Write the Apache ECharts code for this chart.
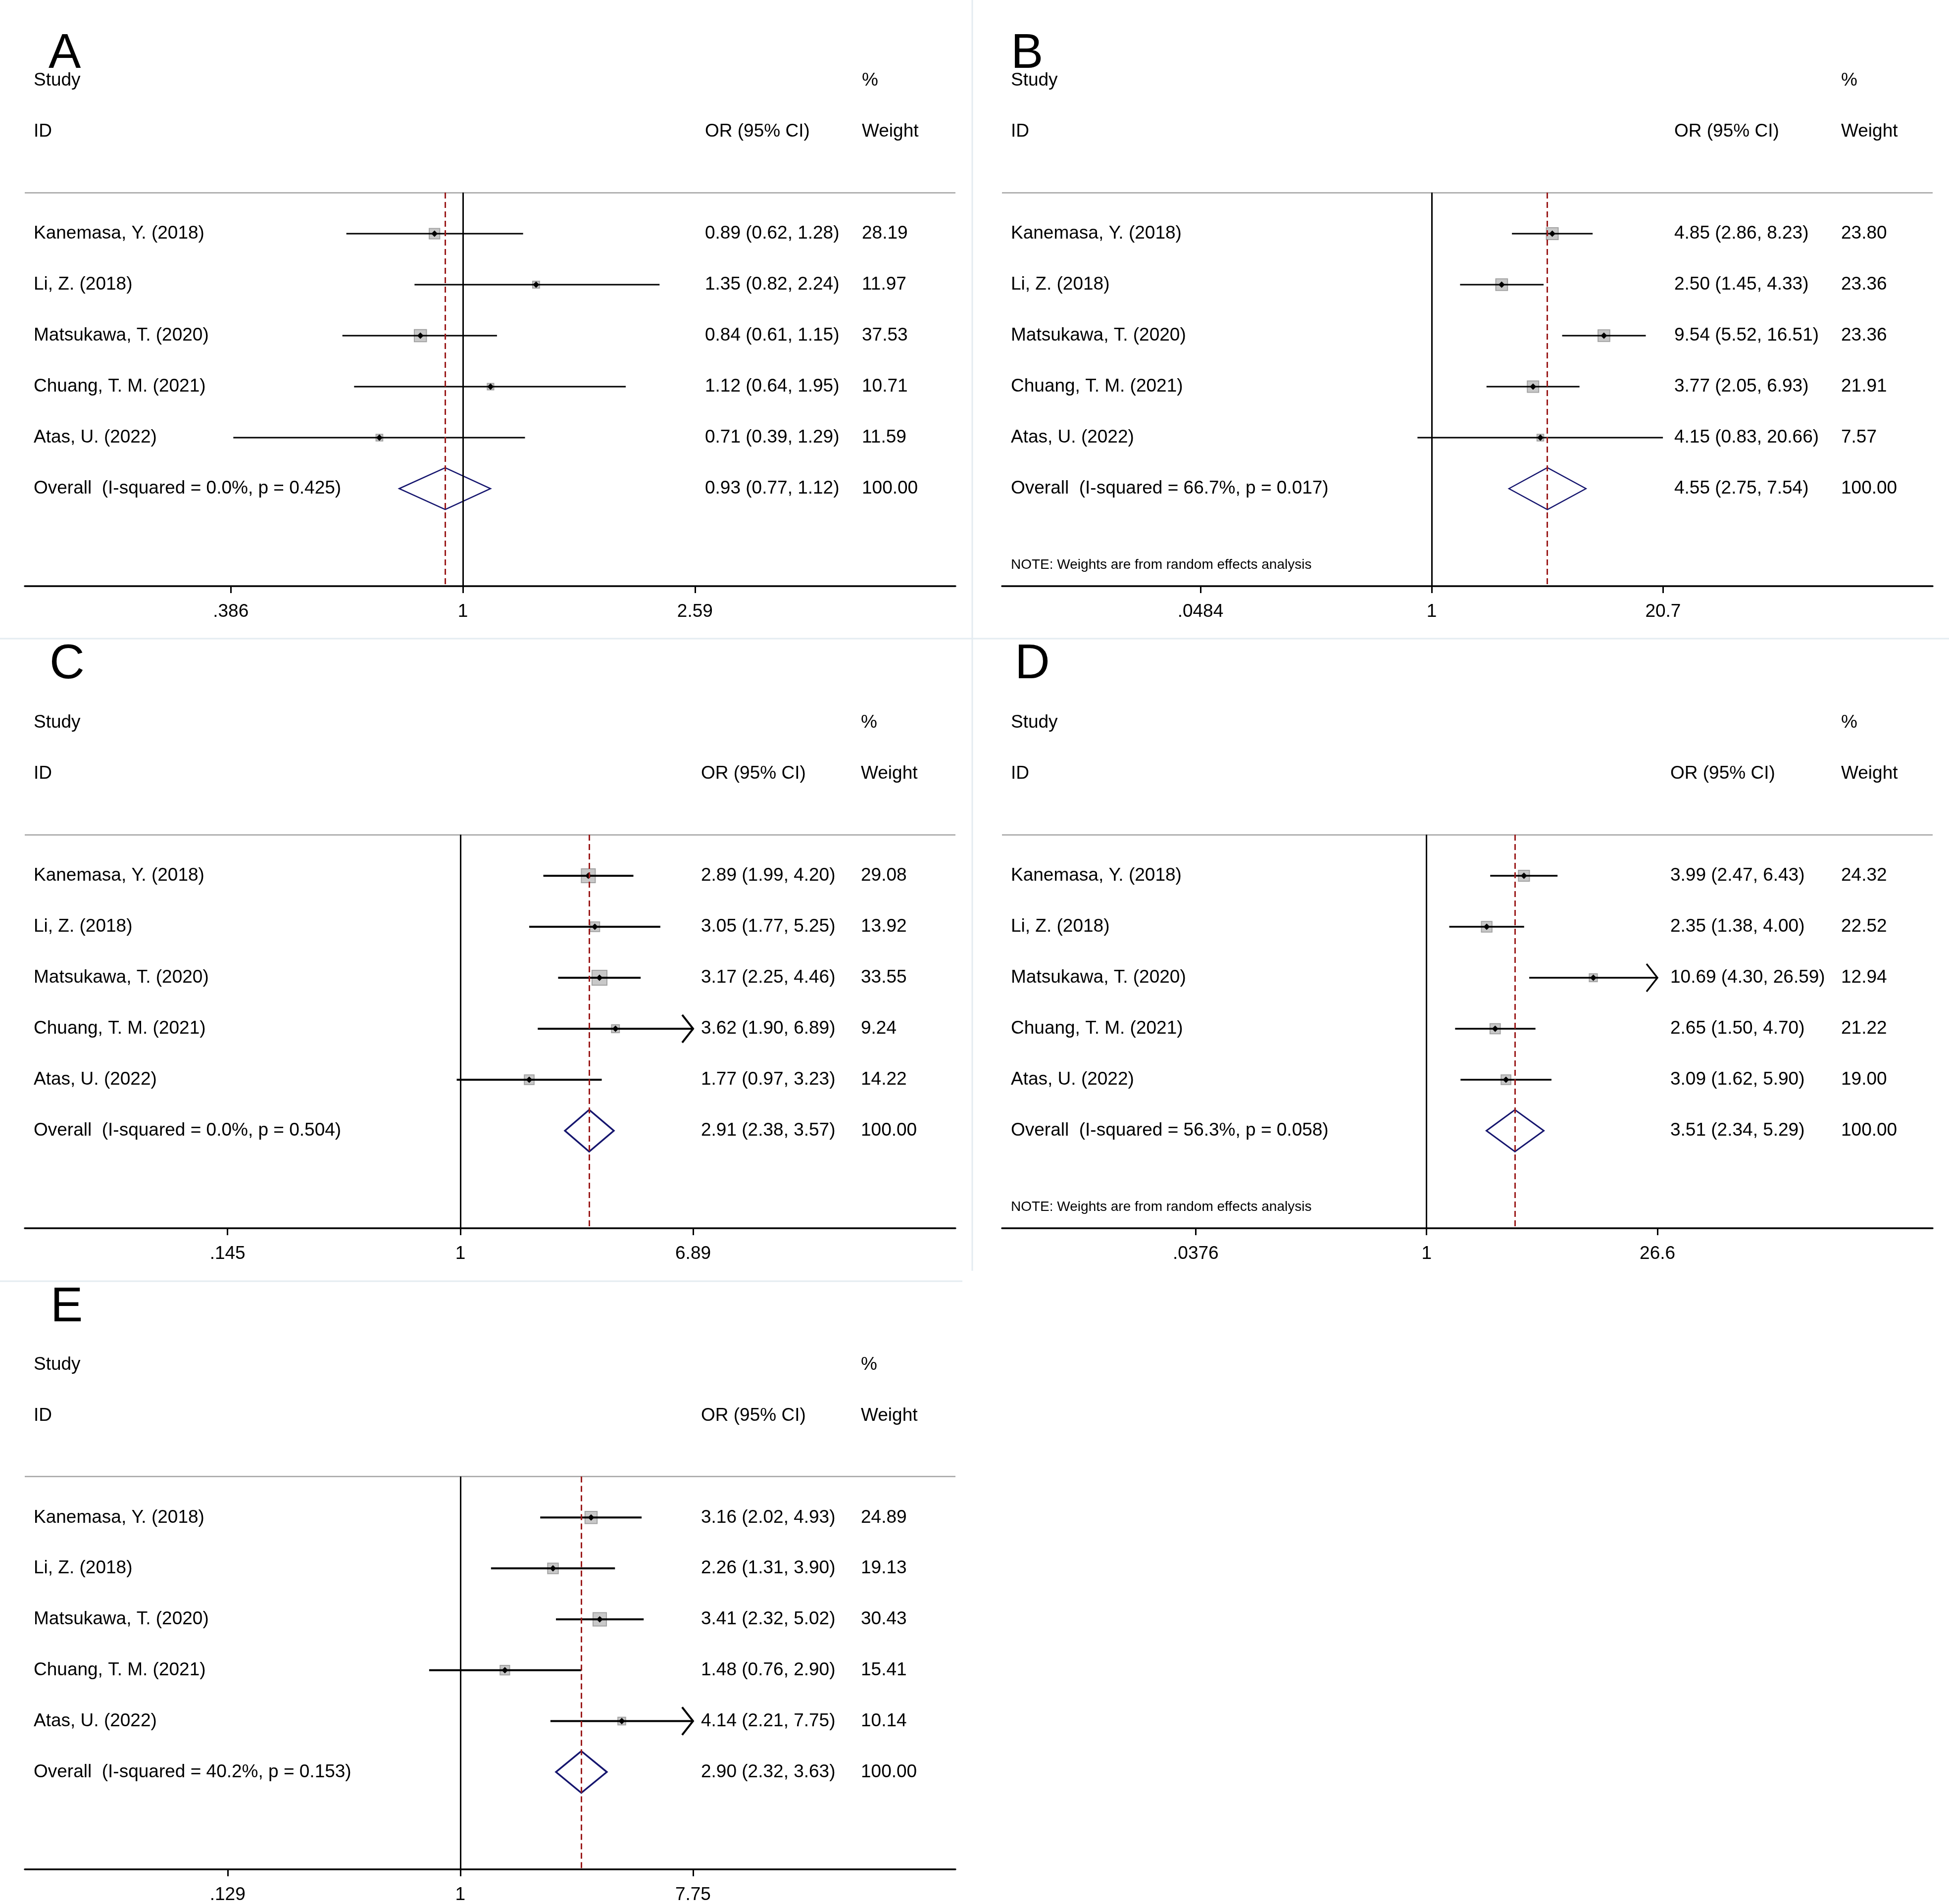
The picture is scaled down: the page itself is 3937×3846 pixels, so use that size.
<!DOCTYPE html>
<html>
<head>
<meta charset="utf-8">
<script src="https://cdn.jsdelivr.net/npm/echarts@6/dist/echarts.min.js"></script>
<style>
    html, body { margin: 0; padding: 0; background: #fff; }
    #forest { width: 3937px; height: 3846px; }
</style>
</head>
<body>
<div id="forest"></div>
<script>
    // study labels shared by every panel
    const studies = ['Kanemasa, Y. (2018)', 'Li, Z. (2018)', 'Matsukawa, T. (2020)', 'Chuang, T. M. (2021)', 'Atas, U. (2022)'];

    // panel A
    const orA = [0.89, 1.35, 0.84, 1.12, 0.71];
    const loA = [0.62, 0.82, 0.61, 0.64, 0.39];
    const hiA = [1.28, 2.24, 1.15, 1.95, 1.29];
    const weightA = [28.19, 11.97, 37.53, 10.71, 11.59];
    const overallA = [0.93, 0.77, 1.12];
    const hetA = 'Overall  (I-squared = 0.0%, p = 0.425)';
    const ticksA = [0.386, 1, 2.59];
    const tickLabelsA = ['.386', '1', '2.59'];
    const arrowsA = [0, 0, 0, 0, 0];

    // panel B
    const orB = [4.85, 2.50, 9.54, 3.77, 4.15];
    const loB = [2.86, 1.45, 5.52, 2.05, 0.83];
    const hiB = [8.23, 4.33, 16.51, 6.93, 20.66];
    const weightB = [23.80, 23.36, 23.36, 21.91, 7.57];
    const overallB = [4.55, 2.75, 7.54];
    const hetB = 'Overall  (I-squared = 66.7%, p = 0.017)';
    const ticksB = [0.0484, 1, 20.7];
    const tickLabelsB = ['.0484', '1', '20.7'];
    const arrowsB = [0, 0, 0, 0, 0];

    // panel C
    const orC = [2.89, 3.05, 3.17, 3.62, 1.77];
    const loC = [1.99, 1.77, 2.25, 1.90, 0.97];
    const hiC = [4.20, 5.25, 4.46, 6.89, 3.23];
    const weightC = [29.08, 13.92, 33.55, 9.24, 14.22];
    const overallC = [2.91, 2.38, 3.57];
    const hetC = 'Overall  (I-squared = 0.0%, p = 0.504)';
    const ticksC = [0.145, 1, 6.89];
    const tickLabelsC = ['.145', '1', '6.89'];
    const arrowsC = [0, 0, 0, 1, 0];

    // panel D
    const orD = [3.99, 2.35, 10.69, 2.65, 3.09];
    const loD = [2.47, 1.38, 4.30, 1.50, 1.62];
    const hiD = [6.43, 4.00, 26.59, 4.70, 5.90];
    const weightD = [24.32, 22.52, 12.94, 21.22, 19.00];
    const overallD = [3.51, 2.34, 5.29];
    const hetD = 'Overall  (I-squared = 56.3%, p = 0.058)';
    const ticksD = [0.0376, 1, 26.6];
    const tickLabelsD = ['.0376', '1', '26.6'];
    const arrowsD = [0, 0, 1, 0, 0];

    // panel E
    const orE = [3.16, 2.26, 3.41, 1.48, 4.14];
    const loE = [2.02, 1.31, 2.32, 0.76, 2.21];
    const hiE = [4.93, 3.90, 5.02, 2.90, 7.75];
    const weightE = [24.89, 19.13, 30.43, 15.41, 10.14];
    const overallE = [2.90, 2.32, 3.63];
    const hetE = 'Overall  (I-squared = 40.2%, p = 0.153)';
    const ticksE = [0.129, 1, 7.75];
    const tickLabelsE = ['.129', '1', '7.75'];
    const arrowsE = [0, 0, 0, 0, 1];

    const noteText = 'NOTE: Weights are from random effects analysis';

    const FONT = "'Liberation Sans', Arial, sans-serif";
    const FS = 37;
    const ROW0 = 472, STEP = 103;
    const Y_MIN = -3.6, Y_MAX = 6.913, Y_HEAD = -0.806;
    const PANEL_W = 1880;

    const panels = [
        { letter: 'A', or: orA, lo: loA, hi: hiA, w: weightA, ov: overallA, het: hetA, ticks: ticksA, tickLabels: tickLabelsA, arrows: arrowsA, note: false,
          left: 50, top: 0, xMin: -1.797, xMax: 2.020, orX: 1424, wX: 1741, nameX: 68, titleX: 98, titleY: 110, box: 4.0, lw: 3 },
        { letter: 'B', or: orB, lo: loB, hi: hiB, w: weightB, ov: overallB, het: hetB, ticks: ticksB, tickLabels: tickLabelsB, arrows: arrowsB, note: true,
          left: 2024, top: 0, xMin: -5.628, xMax: 6.561, orX: 3382, wX: 3719, nameX: 2042, titleX: 2042, titleY: 110, box: 4.9, lw: 3 },
        { letter: 'C', or: orC, lo: loC, hi: hiC, w: weightC, ov: overallC, het: hetC, ticks: ticksC, tickLabels: tickLabelsC, arrows: arrowsC, note: false,
          left: 50, top: 1297, xMin: -3.613, xMax: 4.106, orX: 1416, wX: 1739, nameX: 68, titleX: 100, titleY: 1343, box: 5.2, lw: 4 },
        { letter: 'D', or: orD, lo: loD, hi: hiD, w: weightD, ov: overallD, het: hetD, ticks: ticksD, tickLabels: tickLabelsD, arrows: arrowsD, note: true,
          left: 2024, top: 1297, xMin: -6.034, xMax: 7.192, orX: 3374, wX: 3719, nameX: 2042, titleX: 2050, titleY: 1343, box: 4.5, lw: 3.5 },
        { letter: 'E', or: orE, lo: loE, hi: hiE, w: weightE, ov: overallE, het: hetE, ticks: ticksE, tickLabels: tickLabelsE, arrows: arrowsE, note: false,
          left: 50, top: 2594, xMin: -3.833, xMax: 4.357, orX: 1416, wX: 1739, nameX: 68, titleX: 102, titleY: 2642, box: 4.9, lw: 4 }
    ];

    function fnCi(or, lo, hi) {
        return or.toFixed(2) + ' (' + lo.toFixed(2) + ', ' + hi.toFixed(2) + ')';
    }

    function fnStudyRender(panel) {
        return function (params, api) {
            let y = api.value(1);
            let mid = api.coord([api.value(0), y]);
            let lo = api.coord([api.value(2), y]);
            let hi = api.coord([api.value(3), y]);
            let side = panel.box * Math.sqrt(api.value(4));
            let d = 6.5;
            let children = [
                { type: 'rect', shape: { x: mid[0] - side / 2, y: mid[1] - side / 2, width: side, height: side },
                  style: { fill: '#c8c8c8', stroke: '#a2a2a2', lineWidth: 2 } },
                { type: 'line', shape: { x1: lo[0], y1: lo[1], x2: hi[0], y2: hi[1] },
                  style: { stroke: '#000', lineWidth: panel.lw } },
                { type: 'polygon', shape: { points: [[mid[0] - d, mid[1]], [mid[0], mid[1] - d], [mid[0] + d, mid[1]], [mid[0], mid[1] + d]] },
                  style: { fill: '#000' } }
            ];
            if (api.value(5)) {
                children.push({ type: 'polyline',
                    shape: { points: [[hi[0] - 22, hi[1] - 28], [hi[0], hi[1]], [hi[0] - 22, hi[1] + 28]] },
                    style: { stroke: '#000', lineWidth: panel.lw, fill: null } });
            }
            return { type: 'group', children: children };
        };
    }

    function fnOverallRender(panel) {
        return function (params, api) {
            let y = api.value(1);
            let mid = api.coord([api.value(0), y]);
            let lo = api.coord([api.value(2), y]);
            let hi = api.coord([api.value(3), y]);
            let hh = Math.abs(api.size([0, 1])[1]) * 0.41;
            return {
                type: 'polygon',
                shape: { points: [[lo[0], mid[1]], [mid[0], mid[1] - hh], [hi[0], mid[1]], [mid[0], mid[1] + hh]] },
                style: { fill: null, stroke: '#15156e', lineWidth: panel.lw - 0.5 }
            };
        };
    }

    function fnBuildOption() {
        let option = { animation: false, backgroundColor: '#fff', grid: [], xAxis: [], yAxis: [], series: [], graphic: [] };

        // faint frames between the panels
        let sep = { stroke: '#e4ecf1', lineWidth: 3 };
        option.graphic.push(
            { type: 'line', shape: { x1: 1964, y1: 0, x2: 1964, y2: 2567 }, style: sep, silent: true },
            { type: 'line', shape: { x1: 0, y1: 1290, x2: 3937, y2: 1290 }, style: sep, silent: true },
            { type: 'line', shape: { x1: 0, y1: 2588, x2: 1944, y2: 2588 }, style: sep, silent: true }
        );

        panels.forEach(function (p, index) {
            let gridTop = p.top + ROW0 + Y_MIN * STEP;
            option.grid.push({ left: p.left, top: gridTop, width: PANEL_W, height: (Y_MAX - Y_MIN) * STEP });

            option.graphic.push({ type: 'text', x: p.titleX, y: p.titleY,
                style: { text: p.letter, font: '98px ' + FONT, fill: '#000', verticalAlign: 'middle' } });

            let ticksLn = p.ticks.map(function (t) { return Math.log(t); });
            option.xAxis.push({
                type: 'value', gridIndex: index, min: p.xMin, max: p.xMax, position: 'bottom',
                axisLine: { onZero: false, lineStyle: { color: '#000', width: 3.5 } },
                axisTick: { customValues: ticksLn, length: 14, lineStyle: { color: '#000', width: 3 } },
                axisLabel: {
                    customValues: ticksLn, margin: 33, fontSize: FS, fontFamily: FONT, color: '#000',
                    formatter: function (v) {
                        let best = 0;
                        for (let i = 1; i < ticksLn.length; i++) {
                            if (Math.abs(ticksLn[i] - v) < Math.abs(ticksLn[best] - v)) best = i;
                        }
                        return p.tickLabels[best];
                    }
                },
                splitLine: { show: false }
            });

            // text columns: study, OR (95% CI), weight
            let nameMap = { '-3': 'Study', '-2': 'ID', '5': p.het, '6.5': '{note|' + noteText + '}' };
            let ciMap = { '-2': 'OR (95% CI)', '5': fnCi(p.ov[0], p.ov[1], p.ov[2]) };
            let wMap = { '-3': '%', '-2': 'Weight', '5': '100.00' };
            for (let i = 0; i < studies.length; i++) {
                nameMap[String(i)] = studies[i];
                ciMap[String(i)] = fnCi(p.or[i], p.lo[i], p.hi[i]);
                wMap[String(i)] = p.w[i].toFixed(2);
            }
            let nameValues = [-3, -2, 0, 1, 2, 3, 4, 5];
            if (p.note) nameValues.push(6.5);
            let columns = [
                { x: p.nameX, values: nameValues, map: nameMap },
                { x: p.orX, values: [-2, 0, 1, 2, 3, 4, 5], map: ciMap },
                { x: p.wX, values: [-3, -2, 0, 1, 2, 3, 4, 5], map: wMap }
            ];
            columns.forEach(function (col) {
                option.yAxis.push({
                    type: 'value', gridIndex: index, min: Y_MIN, max: Y_MAX, inverse: true,
                    position: 'left', offset: -(col.x - p.left),
                    axisLine: { show: false, onZero: false }, axisTick: { show: false }, splitLine: { show: false },
                    axisLabel: {
                        inside: true, margin: 0, customValues: col.values,
                        fontSize: FS, fontFamily: FONT, color: '#000',
                        formatter: function (v) { return col.map[String(v)] || ''; },
                        rich: { note: { fontSize: 28, fontFamily: FONT, color: '#000' } }
                    }
                });
            });
            let yIndex = option.yAxis.length - 3;

            let rows = [];
            let maxLn = Math.log(p.ticks[p.ticks.length - 1]);
            for (let i = 0; i < studies.length; i++) {
                let hiLn = Math.log(p.hi[i]);
                if (p.arrows[i]) hiLn = Math.min(hiLn, maxLn);
                rows.push([Math.log(p.or[i]), i, Math.log(p.lo[i]), hiLn, p.w[i], p.arrows[i]]);
            }
            let ovLn = Math.log(p.ov[0]);

            option.series.push({
                type: 'custom', xAxisIndex: index, yAxisIndex: yIndex, z: 2, silent: true,
                data: [[ovLn, 5, Math.log(p.ov[1]), Math.log(p.ov[2])]],
                renderItem: fnOverallRender(p),
                markLine: {
                    silent: true, symbol: ['none', 'none'], label: { show: false },
                    data: [
                        [{ coord: [p.xMin, Y_HEAD], lineStyle: { color: '#a3a3a3', width: 2.5, type: 'solid' } }, { coord: [p.xMax, Y_HEAD] }],
                        [{ coord: [0, Y_HEAD], lineStyle: { color: '#000', width: 3, type: 'solid' } }, { coord: [0, Y_MAX] }],
                        [{ coord: [ovLn, Y_HEAD], lineStyle: { color: '#9b1b1b', width: 3, type: [12, 7] } }, { coord: [ovLn, Y_MAX] }]
                    ]
                }
            });
            option.series.push({
                type: 'custom', xAxisIndex: index, yAxisIndex: yIndex, z: 3, silent: true,
                data: rows,
                renderItem: fnStudyRender(p)
            });
        });

        return option;
    }

    let chart = echarts.init(document.getElementById('forest'), null, { renderer: 'canvas' });
    chart.setOption(fnBuildOption());
</script>
</body>
</html>
